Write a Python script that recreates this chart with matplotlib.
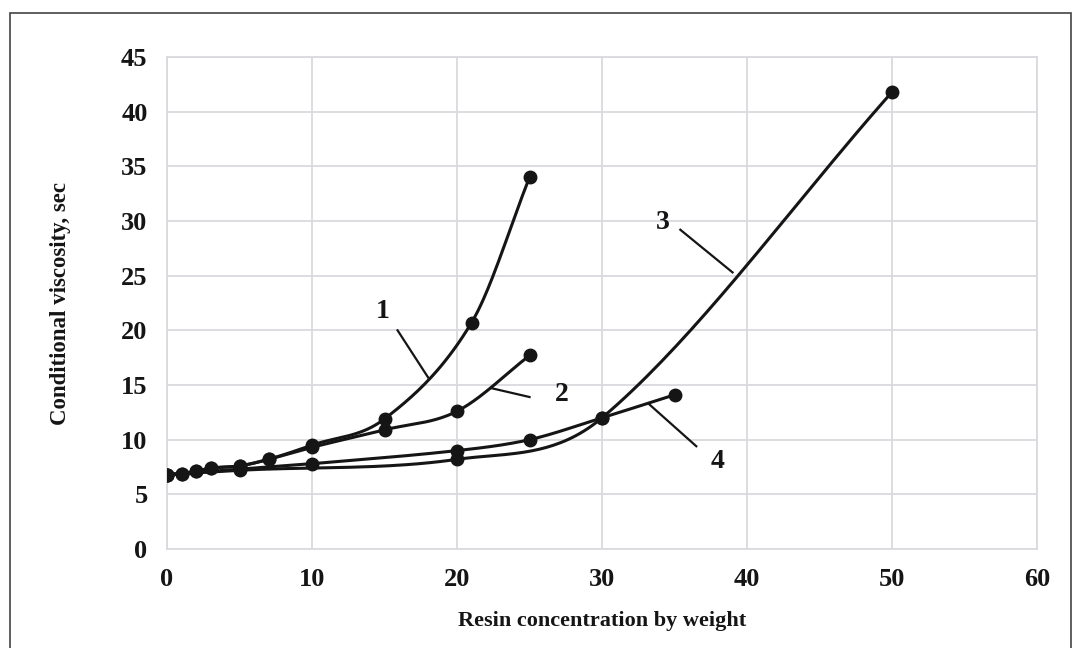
import numpy as np
import matplotlib.pyplot as plt
from matplotlib.patches import Rectangle

plt.rcParams['font.family'] = ['Liberation Serif', 'DejaVu Serif']
plt.rcParams['font.weight'] = 'bold'

# data
x1 = [0, 1, 2, 3, 5, 7, 10, 15, 21, 25]
y1 = [6.8, 6.9, 7.1, 7.4, 7.6, 8.2, 9.5, 11.9, 20.7, 34.0]
x2 = [0, 1, 2, 3, 5, 7, 10, 15, 20, 25]
y2 = [6.8, 6.9, 7.1, 7.4, 7.6, 8.2, 9.3, 10.9, 12.6, 17.7]
x3 = [0, 5, 20, 30, 50]
y3 = [6.8, 7.2, 8.2, 12.0, 41.8]
x4 = [0, 5, 10, 20, 25, 30, 35]
y4 = [6.8, 7.3, 7.8, 9.0, 10.0, 12.0, 14.1]

labels = ['1', '2', '3', '4']
label_pos = [(14.9, 21.7), (27.2, 14.1), (34.2, 29.9), (38.0, 8.0)]
leaders = [((15.9, 20.0), (18.0, 15.7)),
           ((22.4, 14.7), (25.0, 13.9)),
           ((35.4, 29.2), (39.0, 25.3)),
           ((33.2, 13.3), (36.5, 9.4))]

xticks = [0, 10, 20, 30, 40, 50, 60]
yticks = [0, 5, 10, 15, 20, 25, 30, 35, 40, 45]


def smooth(x, y, n=40):
    # smoothed line through the points (cubic Hermite, central-difference slopes)
    x = np.asarray(x, float)
    y = np.asarray(y, float)
    m = np.empty_like(y)
    m[0] = (y[1] - y[0]) / (x[1] - x[0])
    m[-1] = (y[-1] - y[-2]) / (x[-1] - x[-2])
    m[1:-1] = (y[2:] - y[:-2]) / (x[2:] - x[:-2])
    xs, ys = [x[0]], [y[0]]
    for i in range(len(x) - 1):
        h = x[i + 1] - x[i]
        t = np.linspace(0, 1, n)[1:]
        h00 = 2 * t**3 - 3 * t**2 + 1
        h10 = t**3 - 2 * t**2 + t
        h01 = -2 * t**3 + 3 * t**2
        h11 = t**3 - t**2
        xs.extend(x[i] + t * h)
        ys.extend(h00 * y[i] + h10 * h * m[i] + h01 * y[i + 1] + h11 * h * m[i + 1])
    return np.array(xs), np.array(ys)


fig = plt.figure(figsize=(10.72, 6.48), dpi=100)
ax = fig.add_axes([0.1558, 0.1528, 0.8116, 0.7592])

col = '#151515'
for xs, ys in [(x4, y4), (x3, y3), (x2, y2), (x1, y1)]:
    sx, sy = smooth(xs, ys)
    ax.plot(sx, sy, color=col, lw=2.2, solid_capstyle='round', zorder=3)
    ax.plot(xs, ys, 'o', color=col, ms=9, zorder=4)

for lab, (tx, ty), (a, b) in zip(labels, label_pos, leaders):
    ax.plot([a[0], b[0]], [a[1], b[1]], color=col, lw=1.6, zorder=3)
    ax.text(tx, ty, lab, fontsize=20, fontweight='bold', ha='center',
            va='center', color=col)

ax.set_xlim(0, 60)
ax.set_ylim(0, 45)
ax.set_xticks(xticks)
ax.set_yticks(yticks)
ax.grid(True, color='#d9d9de', lw=1.3)
ax.set_axisbelow(True)
for s in ax.spines.values():
    s.set_color('#d9d9de')
    s.set_linewidth(1.3)
ax.tick_params(length=0, labelsize=19, pad=14, colors=col)
for t in ax.get_xticklabels() + ax.get_yticklabels():
    t.set_fontweight('bold')

ax.set_xlabel('Resin concentration by weight', fontsize=16, fontweight='bold',
              labelpad=14, color=col)
ax.set_ylabel('Conditional viscosity, sec', fontsize=16.5, fontweight='bold',
              labelpad=36, color=col)

fig.patches.append(Rectangle((10 / 1072, -0.01), (1071 - 10) / 1072, 1 - 12.5 / 648 + 0.01,
                             transform=fig.transFigure, fill=False,
                             edgecolor='#444444', lw=1.2))

fig.savefig('out.png', dpi=100)
